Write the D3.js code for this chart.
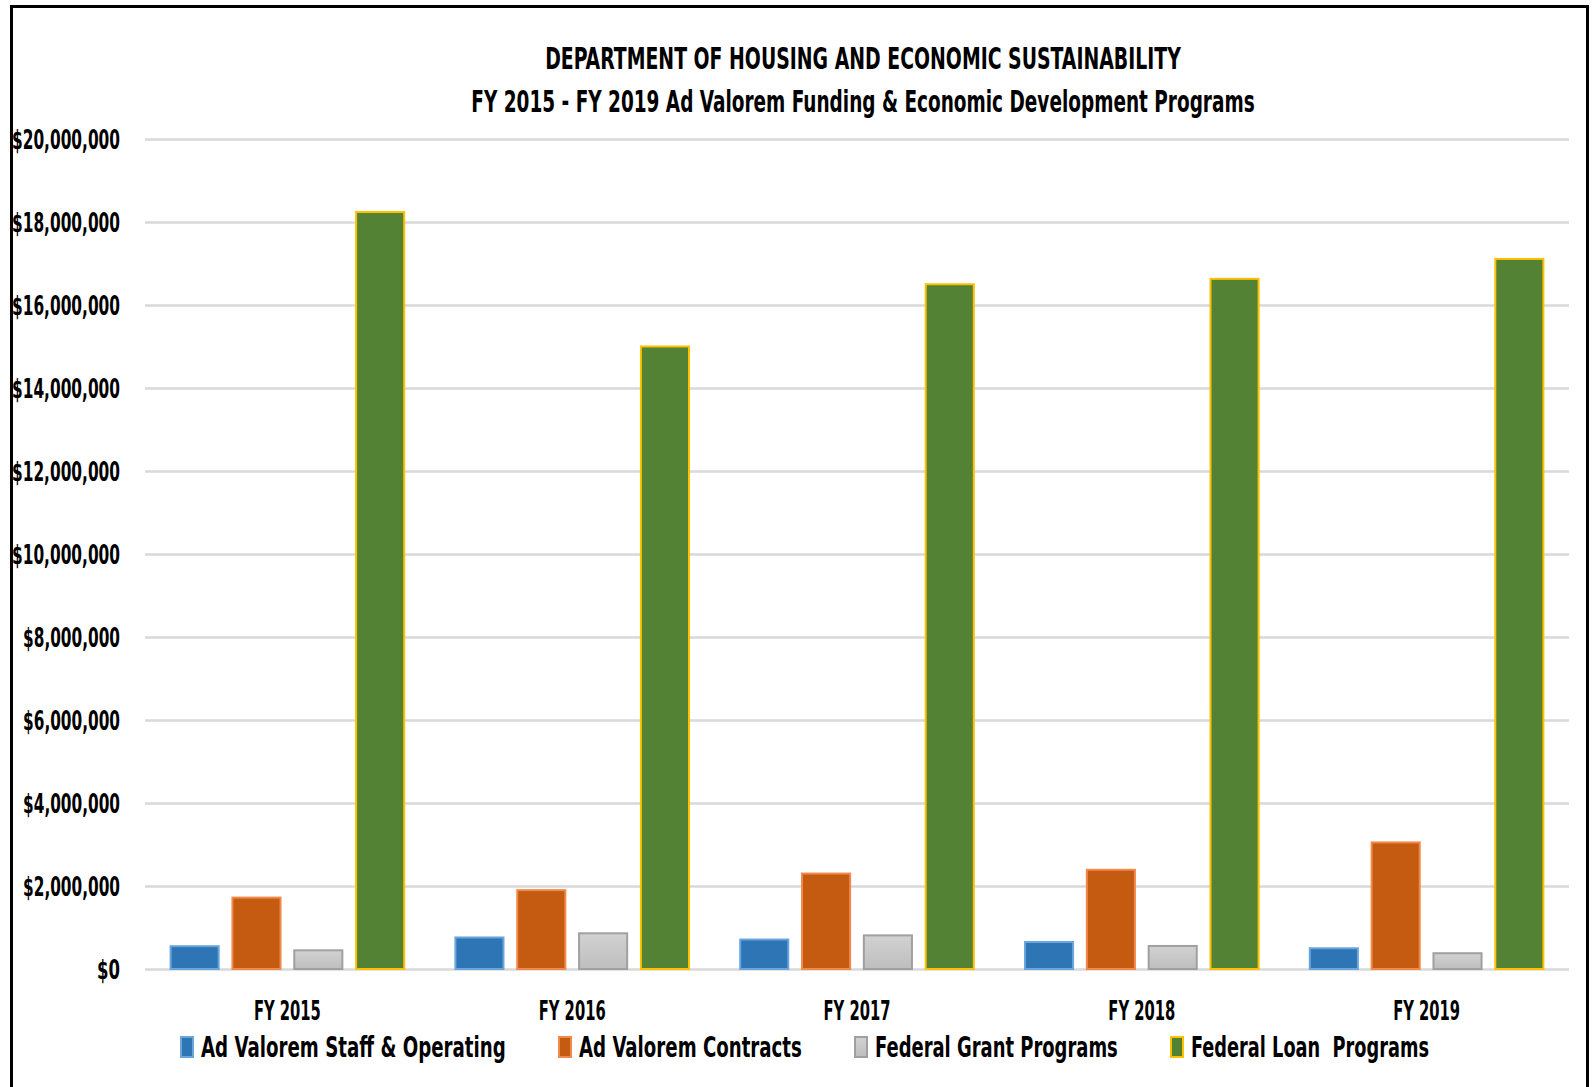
<!DOCTYPE html>
<html>
<head>
<meta charset="utf-8">
<script src="https://cdn.jsdelivr.net/npm/d3@7"></script>
<style>
  html, body { margin: 0; padding: 0; background: #fff; }
  svg { display: block; }
  text { font-family: "Liberation Sans Narrow", "DejaVu Sans Condensed", "Roboto Condensed", "Liberation Sans", sans-serif; font-weight: bold; fill: #000; }
</style>
</head>
<body>
<svg id="chart" width="1592" height="1087"></svg>
<script>
const categories = ["FY 2015", "FY 2016", "FY 2017", "FY 2018", "FY 2019"];
const seriesNames = ["Ad Valorem Staff & Operating", "Ad Valorem Contracts", "Federal Grant Programs", "Federal Loan  Programs"];
const staffOperating = [550000, 760000, 710000, 650000, 500000];
const contracts = [1720000, 1900000, 2300000, 2390000, 3050000];
const grantPrograms = [450000, 860000, 810000, 555000, 380000];
const loanPrograms = [18240000, 15000000, 16500000, 16630000, 17110000];
const yTicks = [0, 2000000, 4000000, 6000000, 8000000, 10000000, 12000000, 14000000, 16000000, 18000000, 20000000];
const titleLines = ["DEPARTMENT OF HOUSING AND ECONOMIC SUSTAINABILITY", "FY 2015 - FY 2019 Ad Valorem Funding & Economic Development Programs"];

const seriesValues = [staffOperating, contracts, grantPrograms, loanPrograms];
const fills = ["#2E75B6", "#C55A11", "url(#grayGrad)", "#548235"];
const strokes = ["#6AA5DC", "#F0894A", "#A0A0A0", "#FFC000"];

// Horizontally squeeze text to a target width (condensed Calibri look)
function squeeze(sel, widthFn) {
  sel.each(function(d, i) {
    const w = this.getComputedTextLength();
    const s = w > 0 ? widthFn(d, i) / w : 1;
    const x = +(this.getAttribute("x") || 0);
    const base = this.getAttribute("data-base-transform") || "";
    this.setAttribute("x", x / s);
    this.setAttribute("transform", `${base} scale(${s},1)`);
  });
}

const svg = d3.select("#chart");
const defs = svg.append("defs");
const g1 = defs.append("linearGradient").attr("id", "grayGrad").attr("x1", 0).attr("y1", 0).attr("x2", 0).attr("y2", 1);
g1.append("stop").attr("offset", "0%").attr("stop-color", "#D2D2D2");
g1.append("stop").attr("offset", "100%").attr("stop-color", "#BEBEBE");

// Frame
svg.append("rect").attr("x", 11.5).attr("y", 6.5).attr("width", 1576).attr("height", 1100)
  .attr("fill", "#fff").attr("stroke", "#000").attr("stroke-width", 3);

const plotLeft = 145, plotRight = 1569, plotTop = 139, plotBottom = 969;

const x0 = d3.scaleBand().domain(categories).range([plotLeft, plotRight]).paddingInner(0).paddingOuter(0);
const x1 = d3.scaleBand().domain(d3.range(seriesNames.length))
  .range([24.6, x0.bandwidth() - 24.6]).paddingInner(0.19).paddingOuter(0);
const y = d3.scaleLinear().domain([0, 20000000]).range([plotBottom, plotTop]);

// Gridlines
const grid = svg.append("g").attr("transform", `translate(${plotLeft},0)`)
  .call(d3.axisLeft(y).tickValues(yTicks).tickSize(-(plotRight - plotLeft)).tickFormat(""));
grid.select(".domain").remove();
grid.selectAll("line").attr("stroke", "#D9D9D9").attr("stroke-width", 2.5);

// Y axis labels
const fmt = v => "$" + d3.format(",")(v);
const yAxis = svg.append("g").attr("transform", `translate(${plotLeft},0)`)
  .call(d3.axisLeft(y).tickValues(yTicks).tickSize(0).tickPadding(25).tickFormat(fmt));
yAxis.select(".domain").remove();
yAxis.attr("font-family", null).attr("font-size", null);
yAxis.selectAll("text")
  .attr("font-size", 26).attr("dy", "0.35em").attr("fill", "#000")
  .call(squeeze, d => {
    const t = fmt(d);
    return d === 0 ? 23 : (t.length === 11 ? 108 : 97);
  });

// Bars
const groups = svg.append("g").selectAll("g").data(categories).join("g")
  .attr("transform", d => `translate(${x0(d)},0)`);
groups.selectAll("rect")
  .data((c, ci) => seriesValues.map((vals, si) => ({ si, v: vals[ci] })))
  .join("rect")
  .attr("x", d => x1(d.si) + 1)
  .attr("width", x1.bandwidth() - 2)
  .attr("y", d => y(d.v))
  .attr("height", d => y(0) - y(d.v))
  .attr("fill", d => fills[d.si])
  .attr("stroke", d => strokes[d.si])
  .attr("stroke-width", 2);

// X axis labels
const xAxis = svg.append("g").attr("transform", `translate(0,${plotBottom})`)
  .call(d3.axisBottom(x0).tickSize(0).tickPadding(29));
xAxis.select(".domain").remove();
xAxis.attr("font-family", null).attr("font-size", null);
xAxis.selectAll("text").attr("font-size", 26)
  .attr("fill", "#000").attr("dy", "0.85em")
  .call(squeeze, () => 67);

// Title
const titleY = [69, 112];
const titleW = [636, 784];
svg.selectAll(".title").data(titleLines).join("text").attr("class", "title")
  .attr("x", 863).attr("y", (d, i) => titleY[i])
  .attr("text-anchor", "middle").attr("font-size", 30)
  .style("white-space", "pre")
  .text(d => d)
  .call(squeeze, (d, i) => titleW[i]);

// Legend
const legendX = [180, 558, 854, 1170];
const legendTextW = [305, 223, 243, 238];
const legend = svg.append("g").selectAll("g").data(seriesNames).join("g")
  .attr("transform", (d, i) => `translate(${legendX[i]},1036)`);
legend.append("rect").attr("x", 1).attr("y", 1).attr("width", 12).attr("height", 20)
  .attr("fill", (d, i) => fills[i]).attr("stroke", (d, i) => strokes[i]).attr("stroke-width", 2);
legend.append("text").attr("x", 21).attr("y", 21)
  .attr("font-size", 29).style("white-space", "pre")
  .text(d => d)
  .call(squeeze, (d, i) => legendTextW[i]);
</script>
</body>
</html>
